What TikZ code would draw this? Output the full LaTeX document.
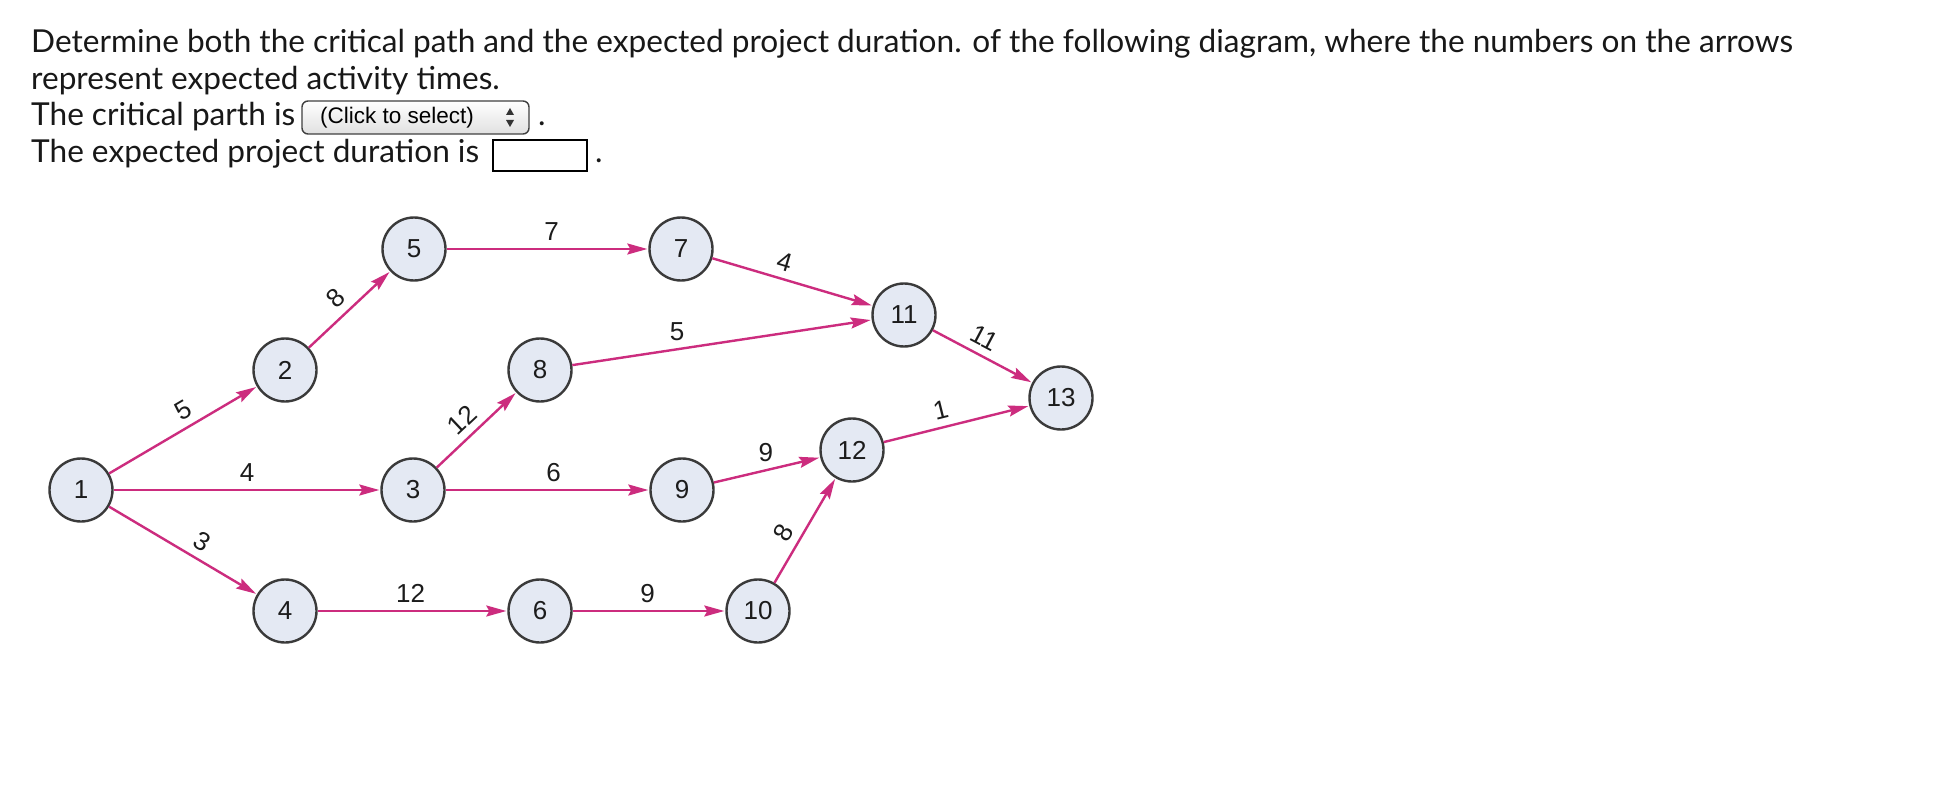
\documentclass[tikz,border=0pt]{standalone}
\usepackage{fontspec}
\setmainfont{Lato}
\newfontfamily\diagfont{Liberation Sans}
\usetikzlibrary{arrows.meta}
\definecolor{arrowc}{RGB}{204,44,126}
\definecolor{nodefill}{RGB}{228,233,243}
\definecolor{nodedraw}{RGB}{58,58,58}
\definecolor{labc}{RGB}{28,28,28}
\definecolor{txtc}{RGB}{24,24,24}
\begin{document}
\begin{tikzpicture}[x=1pt,y=-1pt,
  ev/.style={circle, draw=nodedraw, fill=nodefill, line width=2.4pt, minimum size=63pt, inner sep=0pt, font=\diagfont\fontsize{26}{26}\selectfont, text=labc},
  act/.style={draw=arrowc, line width=2.4pt, -{Stealth[length=20pt,width=11pt,inset=3pt]}, shorten >=1pt},
  tl/.style={font=\diagfont\fontsize{26}{26}\selectfont, text=labc, inner sep=0pt, above=7pt},
  qtext/.style={anchor=base west, inner sep=0pt, font=\fontsize{31.6}{31.6}\selectfont, text=txtc}
]
\useasboundingbox (0,0) rectangle (1958,802);
\fill[white] (0,0) rectangle (1958,802);

% question text
\node[qtext] (q1) at (31,53) {Determine both the critical path and the expected project duration. of the following diagram, where the numbers on the arrows};
\node[qtext] (q2) at (31,89.5) {represent expected activity times.};
\node[qtext] (q3) at (31,126) {The critical parth is};
\draw[rounded corners=6pt, line width=1.4pt, draw=black!75, top color=white, bottom color=black!12] (302,101) rectangle (529,134);
\node[anchor=west, inner sep=0pt, font=\diagfont\fontsize{22.5}{22.5}\selectfont, text=black] (sel) at (320,118) {(Click to select)};
\fill[black!80] (506,115) -- (514,115) -- (510,108) -- cycle;
\fill[black!80] (506,120) -- (514,120) -- (510,127) -- cycle;
\node[qtext] (p3) at (538,126) {.};
\node[qtext] (q4) at (31,162.5) {The expected project duration is};
\draw[line width=2pt, draw=black] (493,140) rectangle (587,171);
\node[qtext] (p4) at (595,162.5) {.};

% events
\node[ev] (n1) at (81,490) {1};
\node[ev] (n2) at (285,370) {2};
\node[ev] (n3) at (413,490) {3};
\node[ev] (n4) at (285,611) {4};
\node[ev] (n5) at (414,249) {5};
\node[ev] (n6) at (540,611) {6};
\node[ev] (n7) at (681,249) {7};
\node[ev] (n8) at (540,370) {8};
\node[ev] (n9) at (682,490) {9};
\node[ev] (n10) at (758,611) {10};
\node[ev] (n11) at (904,315) {11};
\node[ev] (n12) at (852,450) {12};
\node[ev] (n13) at (1061,398) {13};

% activities
\draw[act] (n1) -- node[tl, sloped, pos=0.56]{5} (n2);
\draw[act] (n1) -- node[tl, pos=0.5]{4} (n3);
\draw[act] (n1) -- node[tl, sloped, pos=0.57]{3} (n4);
\draw[act] (n2) -- node[tl, sloped, pos=0.48]{8} (n5);
\draw[act] (n3) -- node[tl, sloped, pos=0.47]{12} (n8);
\draw[act] (n3) -- node[tl, pos=0.53]{6} (n9);
\draw[act] (n4) -- node[tl, pos=0.49]{12} (n6);
\draw[act] (n5) -- node[tl, pos=0.52]{7} (n7);
\draw[act] (n6) -- node[tl, pos=0.49]{9} (n10);
\draw[act] (n7) -- node[tl, sloped, pos=0.42]{4} (n11);
\draw[act] (n8) -- node[tl, pos=0.35]{5} (n11);
\draw[act] (n9) -- node[tl, pos=0.49]{9} (n12);
\draw[act] (n10) -- node[tl, sloped, pos=0.39]{8} (n12);
\draw[act] (n11) -- node[tl, sloped, pos=0.44]{11} (n13);
\draw[act] (n12) -- node[tl, sloped, pos=0.42]{1} (n13);
\end{tikzpicture}
\end{document}
